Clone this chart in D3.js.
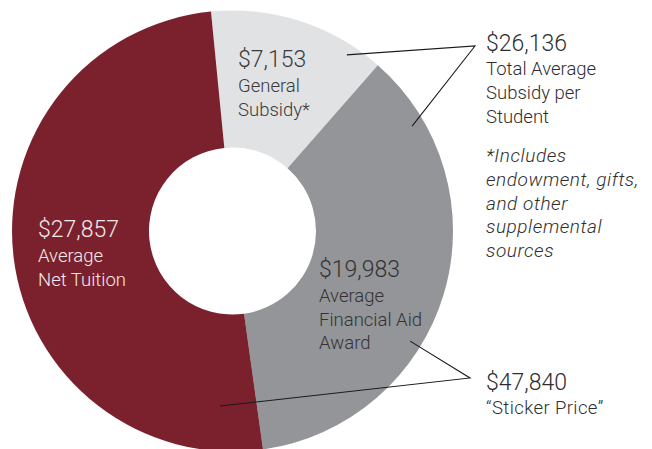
<!DOCTYPE html>
<html><head><meta charset="utf-8">
<script src="https://cdn.jsdelivr.net/npm/d3@7"></script>
<style>
html,body{margin:0;padding:0;background:#fff;}
svg{display:block;}
text{font-family:Roboto,"Liberation Sans",sans-serif;font-weight:300;}
</style></head>
<body>
<svg id="chart" width="652" height="449"></svg>
<script>
// ---- data ----
const categories = ["General Subsidy", "Average Financial Aid Award", "Average Net Tuition"];
const values = [7153, 19983, 27857];
const valueLabels = ["$7,153", "$19,983", "$27,857"];
const sliceLines = [["General", "Subsidy*"], ["Average", "Financial Aid", "Award"], ["Average", "Net Tuition"]];
const colors = ["#e1e2e4", "#939598", "#7b212e"];
const textColors = ["#3a3a3c", "#333335", "#f3e9ea"];
const totalLabel = "$26,136";
const totalLines = ["Total Average", "Subsidy per", "Student"];
const noteLines = ["*Includes", "endowment, gifts,", "and other", "supplemental", "sources"];
const stickerLabel = "$47,840";
const stickerLines = ["\u201cSticker Price\u201d"];

// ---- layout ----
const svg = d3.select("#chart");
const cx = 232.5, cy = 231, R = 220.5, r = 83.5;
const start = -5.6 * Math.PI / 180;
const pie = d3.pie().sort(null).startAngle(start).endAngle(start + 2 * Math.PI);
const arcs = pie(values);
const arc = d3.arc().innerRadius(r).outerRadius(R);
const g = svg.append("g").attr("transform", `translate(${cx},${cy})`);
g.selectAll("path").data(arcs).join("path").attr("d", arc).attr("fill", (d, i) => colors[i]);

// polar helper (degrees clockwise from north, radius)
const pt = (deg, rad) => [cx + rad * Math.sin(deg * Math.PI / 180), cy - rad * Math.cos(deg * Math.PI / 180)];

// slice labels
const labelPos = [[238, 67], [319, 277], [38, 237]];
arcs.forEach((d, i) => {
  const [x, y] = labelPos[i];
  const t = svg.append("text").attr("x", x).attr("y", y).attr("fill", textColors[i]);
  t.append("tspan").attr("x", x).attr("font-size", 23).text(valueLabels[i]);
  sliceLines[i].forEach((s, k) => {
    t.append("tspan").attr("x", x).attr("dy", k === 0 ? 25 : 23.5).attr("font-size", 18.5).text(s);
  });
});

// callout brackets
const lineStyle = s => s.attr("fill", "none").attr("stroke", "#1a1a1a").attr("stroke-width", 1.1);
const topApex = [475, 46];
const botApex = [470, 378];
lineStyle(svg.append("polyline").attr("points", [pt(33, 210), topApex, pt(59.7, 208)].map(p => p.join(",")).join(" ")));
lineStyle(svg.append("polyline").attr("points", [pt(121.8, 209), botApex, pt(184, 175.5)].map(p => p.join(",")).join(" ")));

// right labels
function block(x, y, big, lines) {
  const t = svg.append("text").attr("x", x).attr("y", y).attr("fill", "#2e2e30");
  t.append("tspan").attr("x", x).attr("font-size", 23).text(big);
  lines.forEach((s, k) => t.append("tspan").attr("x", x).attr("dy", k === 0 ? 23.5 : 24).attr("font-size", 18.5).attr("letter-spacing", k === 0 && lines.length === 1 ? 0.4 : 0).text(s));
}
block(486, 51, totalLabel, totalLines);
block(486, 390, stickerLabel, stickerLines);

const note = svg.append("text").attr("x", 486).attr("y", 162).attr("fill", "#2e2e30")
  .attr("font-style", "italic").attr("font-size", 19).attr("letter-spacing", 0.55);
noteLines.forEach((s, k) => note.append("tspan").attr("x", 486).attr("dy", k === 0 ? 0 : 23.8).text(s));
</script>
</body></html>
